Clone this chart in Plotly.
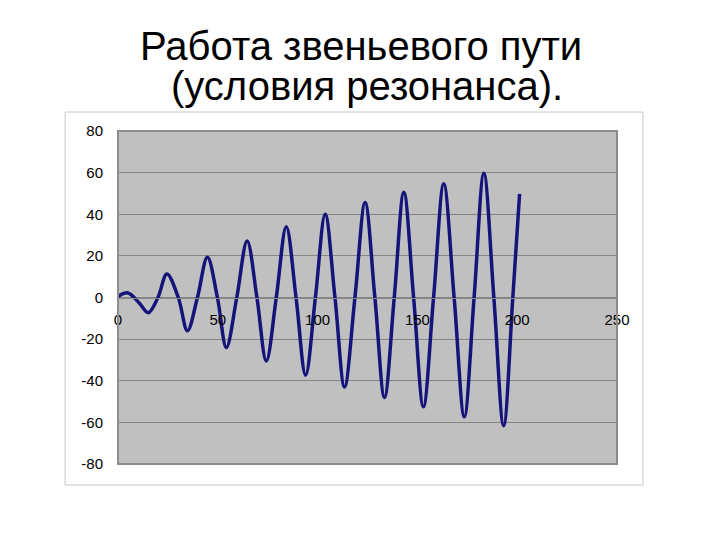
import plotly.graph_objects as go

# Data (extrema and zero crossings)
x_vals = [0, 5, 10.5, 15.2, 20.0, 24.5, 30.2, 34.8, 39.8, 44.8, 49.8, 54.3, 59.5,
          64.7, 69.6, 74.3, 79.3, 84.3, 89.2, 94.0, 98.9, 103.8, 108.7, 113.5,
          118.7, 123.8, 128.7, 133.5, 138.4, 143.2, 148.1, 153.0, 158.1, 163.2,
          168.4, 173.5, 178.4, 183.3, 188.3, 193.2, 197.8, 201.2]
y_vals = [0.5, 2.2, -2.5, -7.3, 0, 11.3, 0, -16.0, 0, 19.3, 0, -24.0, 0,
          27.2, 0, -30.5, 0, 34.0, 0, -37.3, 0, 40.0, 0, -43.0,
          0, 45.6, 0, -48.0, 0, 50.6, 0, -52.5, 0, 54.6,
          0, -57.3, 0, 59.7, 0, -61.6, 0, 49.8]

x_ticks = [0, 50, 100, 150, 200, 250]
y_ticks = [-80, -60, -40, -20, 0, 20, 40, 60, 80]

title_line1 = "Работа звеньевого пути"
title_line2 = "(условия резонанса)."

fig = go.Figure()
fig.add_trace(go.Scatter(
    x=x_vals, y=y_vals, mode="lines",
    line=dict(color="#14147a", width=3.5, shape="spline", smoothing=1.0),
    showlegend=False, hoverinfo="skip",
))

font_family = "Liberation Sans, Arial, sans-serif"

fig.update_layout(
    width=712, height=532,
    margin=dict(l=110, r=103, t=123, b=76),
    paper_bgcolor="white",
    plot_bgcolor="#c0c0c0",
    font=dict(family=font_family, color="black"),
    xaxis=dict(
        range=[0, 250], tickvals=x_ticks, ticktext=[str(v) for v in x_ticks],
        anchor="free", position=0.5,
        showgrid=False, zeroline=False,
        showline=True, linecolor="#888888", linewidth=1,
        ticks="", ticklabelstandoff=8,
        tickfont=dict(size=15, family=font_family, color="black"),
    ),
    yaxis=dict(
        range=[-80, 80], tickvals=y_ticks, ticktext=[str(v) for v in y_ticks],
        showgrid=True, gridcolor="#858585", gridwidth=1,
        zeroline=False, showline=False,
        ticks="", ticklabelstandoff=14,
        tickfont=dict(size=15, family=font_family, color="black"),
    ),
    shapes=[
        # outer chart-area frame
        dict(type="rect", xref="paper", yref="paper",
             x0=-0.106, x1=1.052, y0=-0.063, y1=1.057,
             line=dict(color="#c8c8c8", width=1), layer="below"),
        # plot-area border
        dict(type="rect", xref="paper", yref="paper",
             x0=0, x1=1, y0=0, y1=1,
             line=dict(color="#8c8c8c", width=2), layer="above"),
    ],
    annotations=[
        dict(text=title_line1, xref="paper", yref="paper", x=0.486, y=1.254,
             xanchor="center", yanchor="middle", showarrow=False,
             font=dict(size=40, family=font_family, color="black")),
        dict(text=title_line2, xref="paper", yref="paper", x=0.499, y=1.135,
             xanchor="center", yanchor="middle", showarrow=False,
             font=dict(size=40, family=font_family, color="black")),
    ],
)

fig.write_html("out.html")
